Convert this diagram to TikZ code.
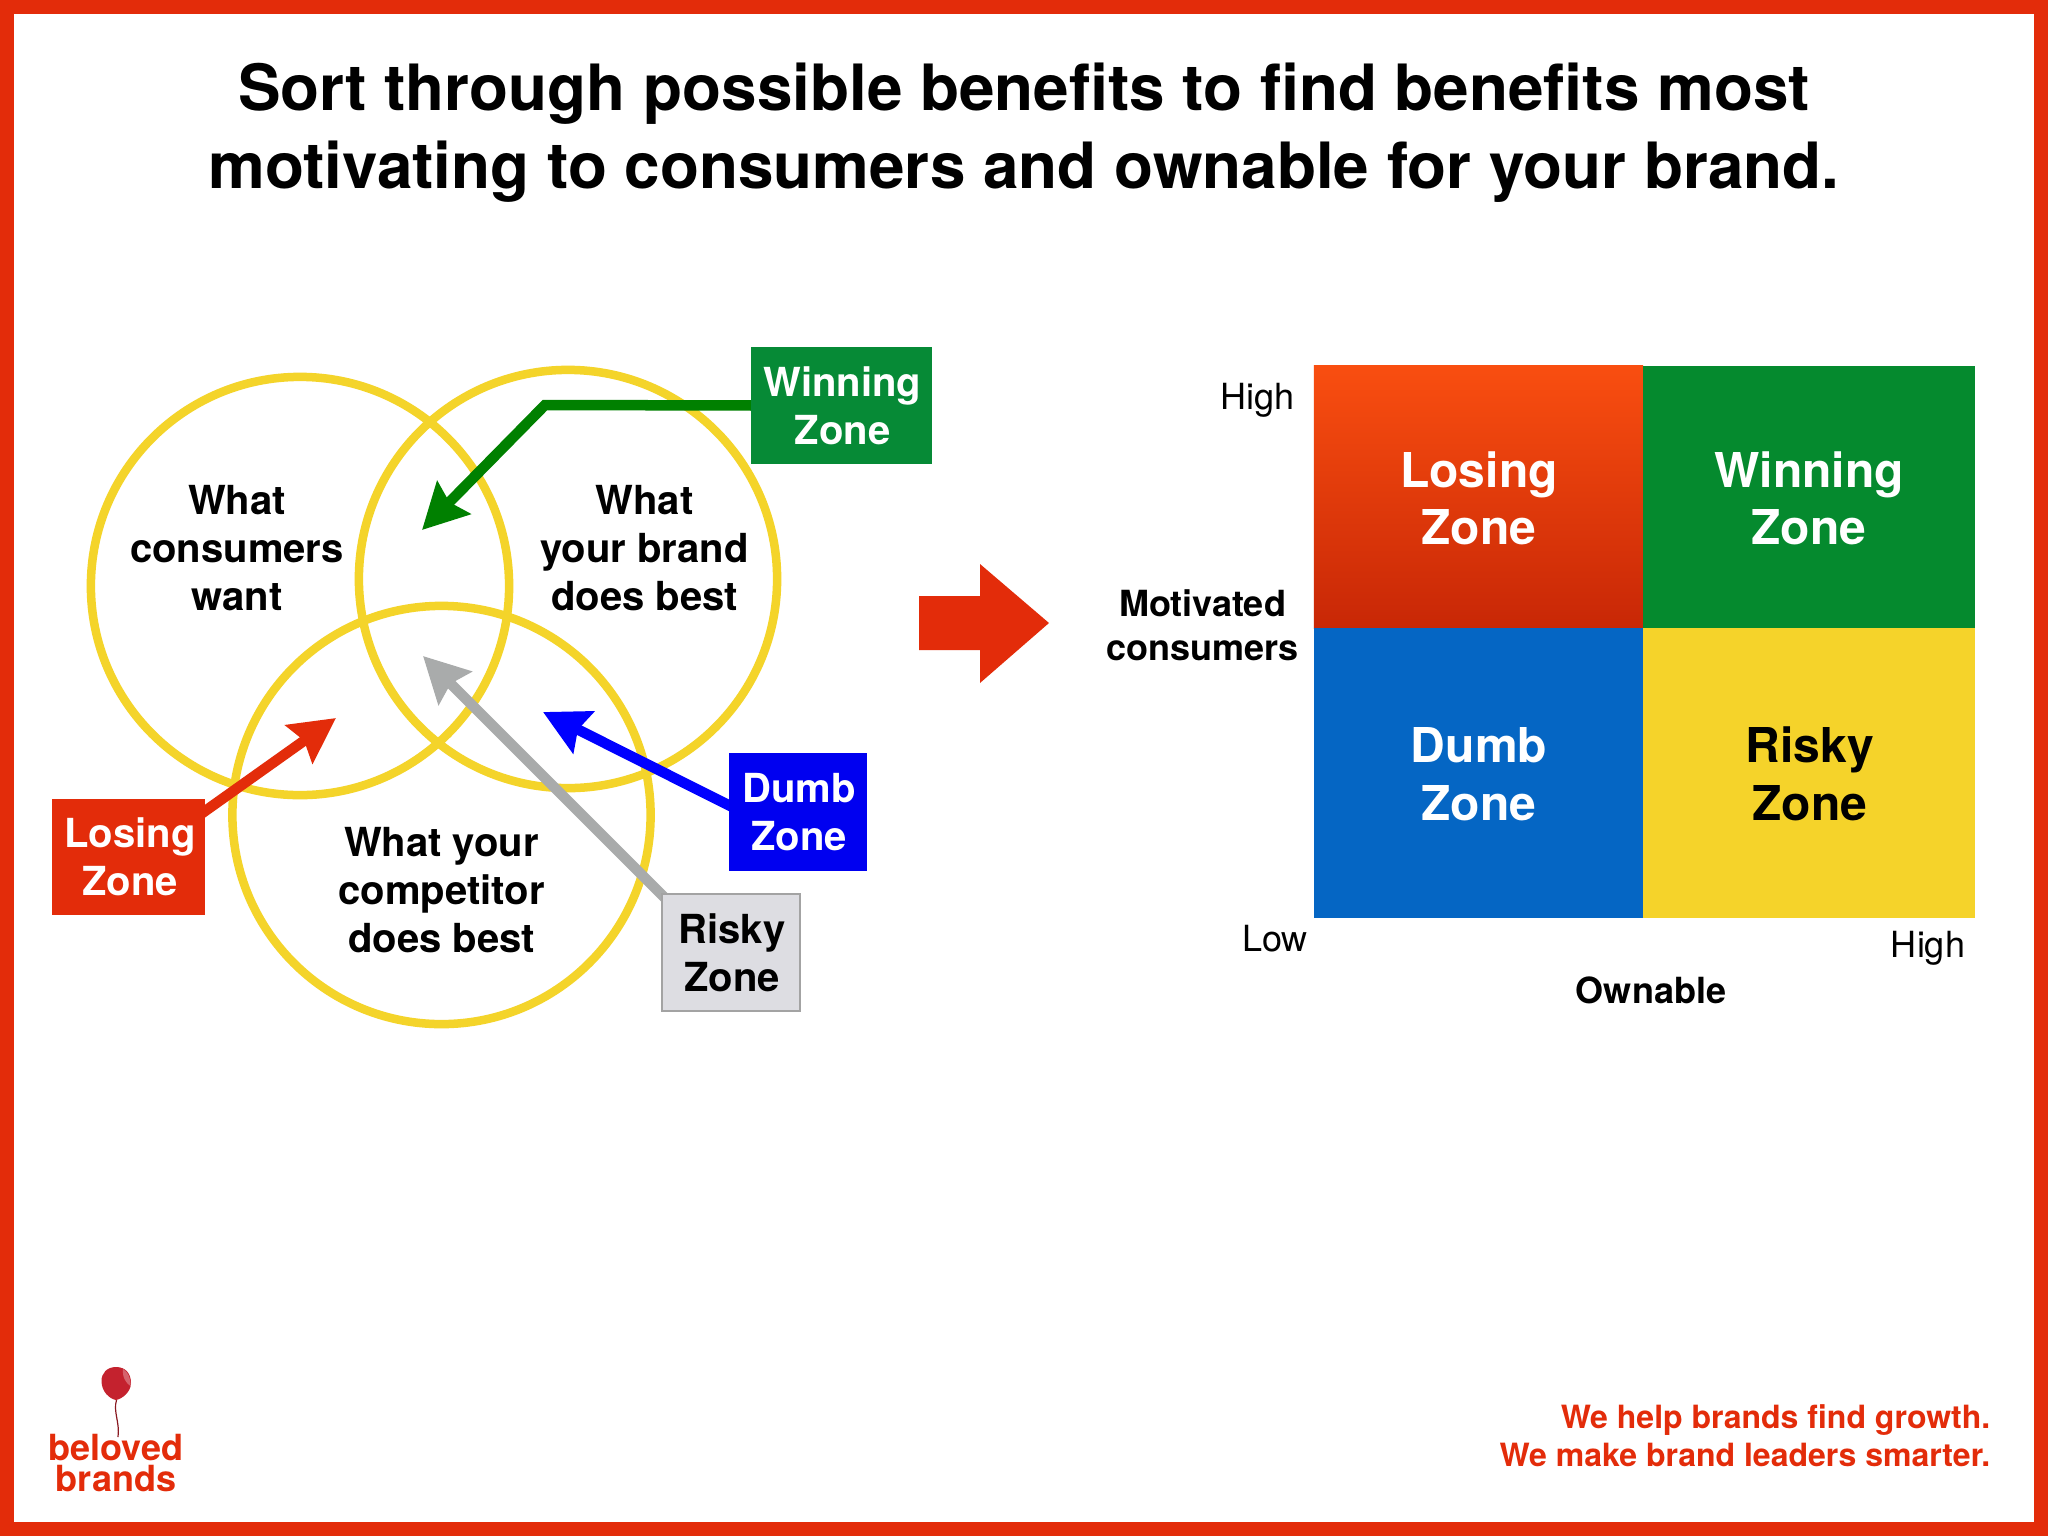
\documentclass[tikz,border=0pt]{standalone}
\usepackage{fontspec}
\setmainfont{TeX Gyre Heros}
\usetikzlibrary{arrows.meta}
\pgfdeclarelayer{back}
\pgfsetlayers{back,main}
\definecolor{frameRed}{HTML}{E32C0A}
\definecolor{ringYellow}{HTML}{F4D42A}
\definecolor{winBox}{HTML}{068A36}
\definecolor{winArrow}{HTML}{008000}
\definecolor{dumbBox}{HTML}{0000F0}
\definecolor{dumbArrow}{HTML}{0000FF}
\definecolor{riskyBox}{HTML}{DDDDE2}
\definecolor{riskyEdge}{HTML}{A3A3A3}
\definecolor{riskyArrow}{HTML}{A9ABAB}
\definecolor{cellBlue}{HTML}{0566C4}
\definecolor{cellGreen}{HTML}{058A2E}
\definecolor{cellYellow}{HTML}{F5D32A}
\definecolor{loseTop}{HTML}{F94E10}
\definecolor{loseBot}{HTML}{C82706}
\definecolor{balloonRed}{HTML}{C4222E}
% size in px of the 2048-wide picture (1px = 0.01cm = 0.2845pt)
\newcommand{\fsize}[2]{\fontsize{\dimexpr #1pt*2845/10000\relax}{\dimexpr #2pt*2845/10000\relax}\selectfont}
\tikzset{
  txt/.style={inner sep=0pt,align=center,text=black},
  venn/.style={txt,font=\fsize{40}{48}\bfseries},
  ring/.style={draw=ringYellow,line width=0.085cm,circle,minimum size=4.18cm,inner sep=0pt},
  zonebox/.style={inner sep=0pt,align=center,font=\fsize{40}{48}\bfseries},
  zonetxt/.style={inner sep=0pt,align=center,font=\fsize{40}{48}\bfseries},
  zonearrow/.style={line width=0.105cm,-{Stealth[length=0.45cm,width=0.46cm,inset=0.06cm]}},
  cell/.style={inner sep=0pt},
  celltxt/.style={inner sep=0pt,align=center,font=\fsize{48}{57.6}\bfseries},
  axisreg/.style={inner sep=0pt,font=\fsize{36}{43}},
  axisbold/.style={inner sep=0pt,align=center,font=\fsize{36}{44}\bfseries},
}
\begin{document}
\begin{tikzpicture}[x=0.01cm,y=-0.01cm]
\useasboundingbox (0,0) rectangle (2048,1536);
\begin{pgfonlayer}{back}
\fill[white] (0,0) rectangle (2048,1536);
\end{pgfonlayer}
\draw[frameRed,line width=0.14cm] (7,7) rectangle (2041,1529);

\node[txt,font=\fsize{63.8}{78}\bfseries] (title) at (1024,132.5)
  {Sort through possible benefits to find benefits most\\motivating to consumers and ownable for your brand.};

% Venn rings
\begin{pgfonlayer}{back}
\node[ring] (ringA) at (300,586) {};
\node[ring] (ringB) at (568,579) {};
\node[ring] (ringC) at (441.5,815) {};
\end{pgfonlayer}
\node[venn] (wantT) at (237,548) {What\\consumers\\want};
\node[venn] (bestT) at (644.5,548) {What\\your brand\\does best};
\node[venn] (compT) at (441.5,890) {What your\\competitor\\does best};

% Zone boxes
\node[zonebox,fill=winBox,minimum width=1.81cm,minimum height=1.17cm] (winZ) at (841.5,405.5) {};
\node[zonebox,fill=frameRed,minimum width=1.53cm,minimum height=1.16cm] (losZ) at (128.5,857) {};
\node[zonebox,fill=dumbBox,minimum width=1.38cm,minimum height=1.18cm] (dumZ) at (798,812) {};
\node[zonebox,fill=riskyBox,draw=riskyEdge,line width=0.02cm,minimum width=1.38cm,minimum height=1.17cm] (rskZ) at (731,952.5) {};
\node[zonetxt,text=white] (winL) at (842.5,405.5) {Winning\\Zone};
\node[zonetxt,text=white] (losL) at (130,857) {Losing\\Zone};
\node[zonetxt,text=white] (dumL) at (799,812) {Dumb\\Zone};
\node[zonetxt,text=black] (rskL) at (732,952.5) {Risky\\Zone};

% Arrow targets
\coordinate (winBend) at (545,405);
\coordinate (winTip) at (422,530);
\coordinate (losTip) at (336,718);
\coordinate (dumTip) at (543,712);
\coordinate (rskTip) at (423,656);
\begin{pgfonlayer}{back}
\draw[zonearrow,winArrow,line join=miter] ([xshift=0.05cm]winZ.west) -- (winBend) -- (winTip);
\draw[zonearrow,frameRed] ([shift={(-0.08cm,-0.18cm)}]losZ.north east) -- (losTip);
\draw[zonearrow,dumbArrow] ([shift={(0.08cm,0.03cm)}]dumZ.west) -- (dumTip);
\draw[zonearrow,riskyArrow] ([shift={(0.07cm,-0.08cm)}]rskZ.north west) -- (rskTip);
\end{pgfonlayer}

% Big arrow
\fill[frameRed] (919,596) -- (980,596) -- (980,564) -- (1049,623) -- (980,683) -- (980,650) -- (919,650) -- cycle;

% Matrix
\node[cell,top color=loseTop,bottom color=loseBot,minimum width=3.29cm,minimum height=2.62cm] (cLose) at (1478.5,497) {};
\node[cell,fill=cellGreen,minimum width=3.32cm,minimum height=2.62cm] (cWin) at (1809,497) {};
\node[cell,fill=cellBlue,minimum width=3.29cm,minimum height=2.90cm] (cDumb) at (1478.5,773) {};
\node[cell,fill=cellYellow,minimum width=3.32cm,minimum height=2.90cm] (cRisk) at (1809,773) {};
\node[celltxt,text=white] (tLose) at (1479,498.5) {Losing\\Zone};
\node[celltxt,text=white] (tWin) at (1809,498.5) {Winning\\Zone};
\node[celltxt,text=white] (tDumb) at (1479,774) {Dumb\\Zone};
\node[celltxt,text=black] (tRisk) at (1810,774) {Risky\\Zone};

\node[axisreg] (hiY) at (1257.5,400.5) {High};
\node[axisbold] (motiv) at (1202.5,625) {Motivated\\consumers};
\node[axisreg] (lowX) at (1275,939) {Low};
\node[axisreg] (hiX) at (1928,948.5) {High};
\node[axisbold] (ownX) at (1651,990) {Ownable};

% Footer
\node[inner sep=0pt,align=right,anchor=east,text=frameRed,font=\fsize{32}{38}\bfseries] (tag) at (1991,1436)
  {We help brands find growth.\\We make brand leaders smarter.};

% Logo
\node[inner sep=0pt,align=center,text=frameRed,font=\fsize{36}{31}\bfseries] (logo) at (116,1463) {beloved\\brands};
\draw[line width=0.012cm,draw=balloonRed!70!black] (116.5,1400) .. controls (113,1412) and (120,1422) .. (118,1437);
\fill[balloonRed] (116,1367) .. controls (126,1367) and (131,1374) .. (131,1383)
   .. controls (131,1392) and (122,1399) .. (116,1400)
   .. controls (110,1399) and (101.5,1392) .. (101.5,1381)
   .. controls (101.5,1373) and (107,1367) .. (116,1367) -- cycle;
\fill[white,opacity=0.3] (123,1369) .. controls (128,1372) and (131,1378) .. (130.5,1386) .. controls (127,1384) and (122,1378) .. (123,1369) -- cycle;
\end{tikzpicture}
\end{document}
